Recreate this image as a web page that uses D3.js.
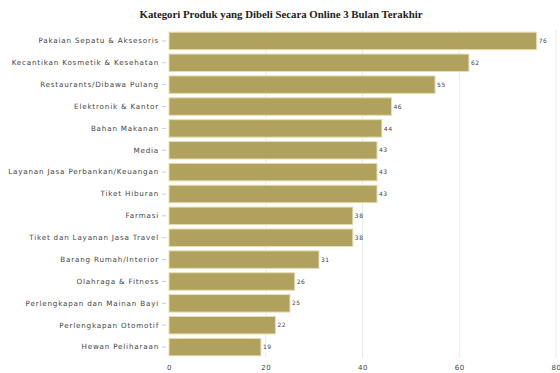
<!DOCTYPE html>
<html>
<head>
<meta charset="utf-8">
<script src="https://cdn.jsdelivr.net/npm/d3@7"></script>
<style>
  body { margin: 0; background: #fff; }
</style>
</head>
<body>
<div id="graph"></div>
<script>
let w = 560;
let h = 373;

let categories = [
  "Pakaian Sepatu & Aksesoris",
  "Kecantikan Kosmetik & Kesehatan",
  "Restaurants/Dibawa Pulang",
  "Elektronik & Kantor",
  "Bahan Makanan",
  "Media",
  "Layanan Jasa Perbankan/Keuangan",
  "Tiket Hiburan",
  "Farmasi",
  "Tiket dan Layanan Jasa Travel",
  "Barang Rumah/Interior",
  "Olahraga & Fitness",
  "Perlengkapan dan Mainan Bayi",
  "Perlengkapan Otomotif",
  "Hewan Peliharaan"
];
let values = [76, 62, 55, 46, 44, 43, 43, 43, 38, 38, 31, 26, 25, 22, 19];
let xTicks = [0, 20, 40, 60, 80];
let title = "Kategori Produk yang Dibeli Secara Online 3 Bulan Terakhir";

let data = categories.map(function(c, i){ return {cat: c, val: values[i]}; });

let plotLeft = 169;
let plotRight = 556;
let plotTop = 30;
let plotBottom = 358;

let xScale = d3.scaleLinear().domain([0, 80]).range([plotLeft, plotRight]);
let yScale = d3.scaleBand().domain(categories).range([plotTop, plotBottom]).paddingInner(0.2).paddingOuter(0.1);

let viz = d3.select("#graph")
  .append("svg")
    .attr("width", w)
    .attr("height", h)
;

// title
viz.append("text")
  .attr("x", 281)
  .attr("y", 18)
  .attr("text-anchor", "middle")
  .attr("font-family", "Liberation Serif, serif")
  .attr("font-weight", "bold")
  .attr("font-size", 10.8)
  .attr("fill", "#222")
  .text(title);

// gridlines
viz.append("g").selectAll("line").data(xTicks.slice(1)).enter()
  .append("line")
    .attr("x1", d => xScale(d))
    .attr("x2", d => xScale(d))
    .attr("y1", plotTop)
    .attr("y2", plotBottom)
    .attr("stroke", "#ebebeb")
    .attr("stroke-width", 1)
;

// bars
viz.append("g").selectAll("rect").data(data).enter()
  .append("rect")
    .attr("x", xScale(0))
    .attr("y", d => yScale(d.cat))
    .attr("width", d => xScale(d.val) - xScale(0))
    .attr("height", yScale.bandwidth())
    .attr("fill", "#b0a25e")
    .attr("stroke", "#e6deb0")
    .attr("stroke-width", 1)
;

// value labels
viz.append("g").selectAll("text").data(data).enter()
  .append("text")
    .attr("x", d => xScale(d.val) + 2)
    .attr("y", d => yScale(d.cat) + yScale.bandwidth() / 2)
    .attr("dy", "0.35em")
    .attr("font-family", "DejaVu Sans, sans-serif")
    .attr("font-size", 6)
    .attr("letter-spacing", 0.5)
    .attr("fill", "#444")
    .text(d => d.val)
;

// y axis
let yAxis = d3.axisLeft(yScale).tickSize(4).tickPadding(3);
let yAxisGroup = viz.append("g").attr("transform", "translate(" + (plotLeft - 3) + ",0)").call(yAxis);
yAxisGroup.select(".domain").remove();
yAxisGroup.selectAll(".tick line").attr("stroke", "#ccc");
yAxisGroup.selectAll(".tick text")
  .attr("font-family", "DejaVu Sans, sans-serif")
  .attr("font-size", 7.2)
  .attr("letter-spacing", 0.8)
  .attr("fill", "#444");

// x axis
let xAxis = d3.axisBottom(xScale).tickValues(xTicks).tickSize(0).tickPadding(6);
let xAxisGroup = viz.append("g").attr("transform", "translate(0," + (plotBottom + 1) + ")").call(xAxis);
xAxisGroup.select(".domain").remove();
xAxisGroup.selectAll(".tick text")
  .attr("font-family", "DejaVu Sans, sans-serif")
  .attr("font-size", 7)
  .attr("letter-spacing", 0.6)
  .attr("fill", "#444");
</script>
</body>
</html>
